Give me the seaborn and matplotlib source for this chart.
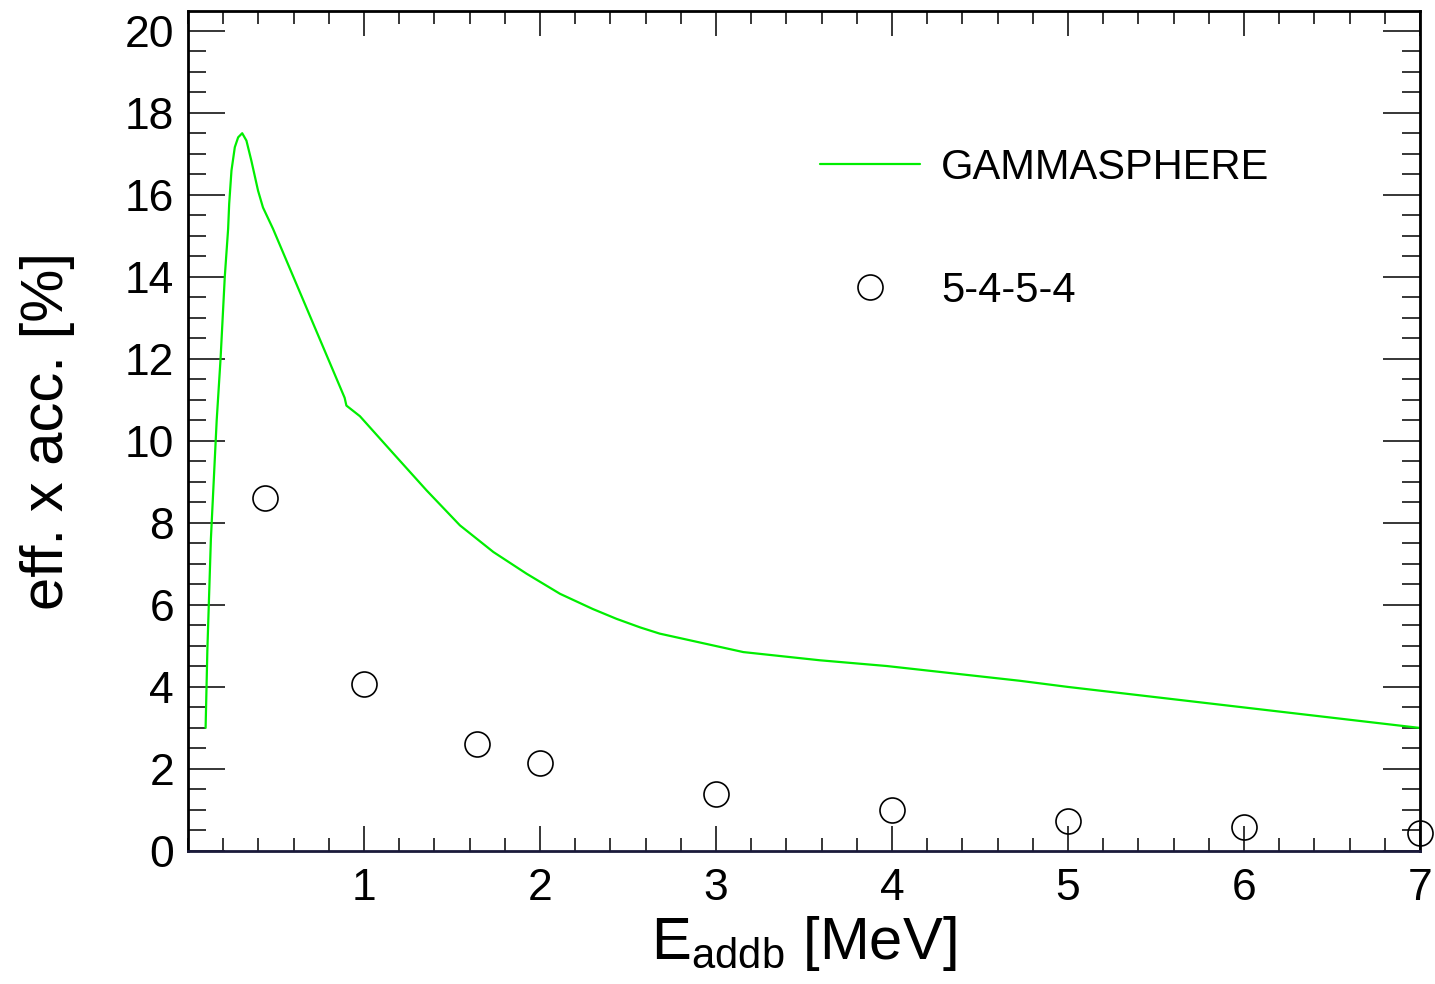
import matplotlib
matplotlib.use("Agg")
import matplotlib.pyplot as plt
import seaborn as sns
from matplotlib.ticker import MultipleLocator, FixedLocator

# ---- data ----
gamma_x = [0.10, 0.11, 0.13, 0.163, 0.185, 0.209, 0.228, 0.234, 0.247, 0.266, 0.285, 0.308, 0.332,
           0.36, 0.398, 0.426, 0.483, 0.89, 0.90, 0.977, 1.167, 1.356, 1.545, 1.735, 1.924, 2.114,
           2.30, 2.435, 2.57, 2.68, 3.155, 3.59, 3.97, 4.727, 5.0, 6.0, 7.0]
gamma_y = [3.0, 4.9, 7.6, 10.5, 12.0, 14.0, 15.17, 15.78, 16.59, 17.16, 17.40, 17.5, 17.32,
           16.83, 16.1, 15.69, 15.17, 11.05, 10.86, 10.6, 9.69, 8.79, 7.94, 7.29, 6.76, 6.27,
           5.90, 5.66, 5.45, 5.30, 4.85, 4.65, 4.51, 4.15, 4.0, 3.5, 3.0]

cfg_x = [0.44, 1.0, 1.64, 2.0, 3.0, 4.0, 5.0, 6.0, 7.0]
cfg_y = [8.6, 4.08, 2.62, 2.15, 1.38, 0.99, 0.72, 0.58, 0.45]

series_names = ["GAMMASPHERE", "5-4-5-4"]
x_ticks = [1, 2, 3, 4, 5, 6, 7]
y_ticks = [0, 2, 4, 6, 8, 10, 12, 14, 16, 18, 20]

# ---- style ----
sns.set_theme(style="ticks")
plt.rcParams["font.family"] = ["Liberation Sans", "DejaVu Sans"]
plt.rcParams["mathtext.default"] = "regular"
plt.rcParams["text.color"] = "black"
plt.rcParams["axes.labelcolor"] = "black"
plt.rcParams["xtick.color"] = "black"
plt.rcParams["ytick.color"] = "black"

fig = plt.figure(figsize=(14.35, 9.84), dpi=100)
ax = fig.add_axes([188 / 1435, 1 - 851 / 984, (1420 - 188) / 1435, (851 - 11) / 984])

sns.lineplot(x=gamma_x, y=gamma_y, ax=ax, color="#00ee00", linewidth=1.6,
             sort=False, label=series_names[0])
sns.lineplot(x=cfg_x, y=cfg_y, ax=ax, linestyle="none", marker="o", markersize=18,
             markerfacecolor="none", markeredgecolor="black", markeredgewidth=1.2,
             color="black", label=series_names[1], clip_on=False)

ax.set_xlim(0, 7)
ax.set_ylim(0, 20.48)

ax.xaxis.set_major_locator(FixedLocator(x_ticks))
ax.xaxis.set_minor_locator(MultipleLocator(0.2))
ax.yaxis.set_major_locator(FixedLocator(y_ticks))
ax.yaxis.set_minor_locator(MultipleLocator(0.5))

ax.tick_params(axis="both", which="both", direction="in", top=True, right=True,
               colors="black", labelcolor="black", width=1.1)
ax.tick_params(axis="x", which="major", length=18, labelsize=32, pad=12)
ax.tick_params(axis="x", which="minor", length=9.5)
ax.tick_params(axis="y", which="major", length=26.5, labelsize=32, pad=10)
ax.tick_params(axis="y", which="minor", length=13)

for s in ax.spines.values():
    s.set_linewidth(2.0)
    s.set_color("black")
ax.spines["bottom"].set_color("#1a1a3a")

ax.set_xlabel("E$_{addb}$ [MeV]", fontsize=43, labelpad=4, color="black")
ax.set_ylabel("eff. x acc. [%]", fontsize=43, labelpad=36, color="black")

leg = ax.legend(loc="upper left", bbox_to_anchor=(820 / 1435, 1 - 148 / 984),
                bbox_transform=fig.transFigure, frameon=False, fontsize=30,
                handlelength=2.4, handletextpad=0.5, labelspacing=1.98,
                borderpad=0, borderaxespad=0)
for t in leg.get_texts():
    t.set_color("black")

fig.savefig("out.png", dpi=100, facecolor="white")
